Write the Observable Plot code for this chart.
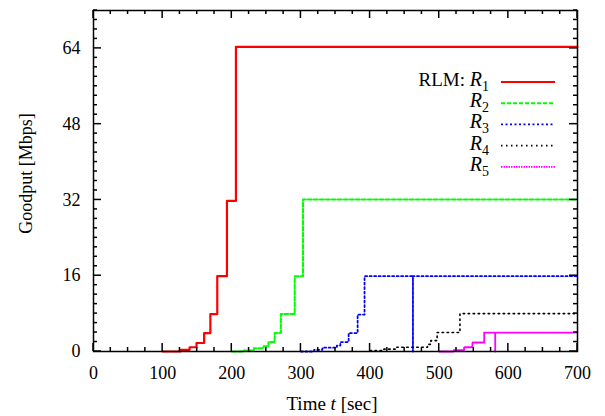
<!DOCTYPE html>
<html><head><meta charset="utf-8">
<script src="https://cdn.jsdelivr.net/npm/d3@7"></script>
<script src="https://cdn.jsdelivr.net/npm/@observablehq/plot@0.6"></script>
<style>body{margin:0;background:#fff} svg text{font-family:"Liberation Serif","Times New Roman",serif !important}</style>
</head><body><div id="chart"></div>
<script>
// Step series: time [sec] where rate changes, goodput [Mbps]
const r1Time = [100, 126, 139, 149, 160, 169, 179, 193, 206, 700];
const r1Rate = [0, 0.35, 0.9, 1.8, 3.9, 7.9, 15.9, 31.8, 64.3, 64.3];
const r2Time = [200, 217, 232, 246, 253, 262, 271, 291, 303, 700];
const r2Rate = [0, 0.2, 0.7, 1.1, 2, 3.9, 7.9, 15.9, 32.1, 32.1];
const r3Time = [300, 319, 331, 352, 357, 369, 382, 392, 462, 462, 700];
const r3Rate = [0, 0.35, 0.8, 1.26, 2, 3.9, 7.8, 15.9, 0, 15.9, 15.9];
const r4Time = [400, 420, 437, 483, 488, 497, 530, 700];
const r4Rate = [0.2, 0.5, 0.9, 1.5, 2.3, 4, 8, 8];
const r5Time = [500, 521, 536, 548, 565, 581, 581, 700];
const r5Rate = [0, 0.3, 0.9, 1.9, 4, 0, 4, 4];

const seriesNames = ["R1", "R2", "R3", "R4", "R5"];
const seriesColors = ["#ff0000", "#00ff00", "#0000ff", "#000000", "#ff00ff"];
const seriesDash = [null, "4,2", "2,2.5", "1.5,3.5", "1.5,1"];
const seriesWidth = [2.2, 2, 1.8, 1.6, 1.8];

const xTickLabels = [0, 100, 200, 300, 400, 500, 600, 700];
const yTickLabels = [0, 16, 32, 48, 64];

const times = [r1Time, r2Time, r3Time, r4Time, r5Time];
const rates = [r1Rate, r2Rate, r3Rate, r4Rate, r5Rate];
const rows = seriesNames.flatMap((s, i) => times[i].map((t, j) => ({series: s, t, v: rates[i][j]})));

const X0 = 0, X1 = 700, Y0 = 0, Y1 = 72;
const xMajor = d3.range(X0, X1 + 1, 100);
const xMinor = d3.range(X0, X1 + 1, 25).filter(d => d % 100 !== 0);
const yMajor = d3.range(Y0, Y1 + 1, 16);
const yMinor = d3.range(Y0, Y1 + 1, 2).filter(d => d % 16 !== 0);

const W = 605, H = 416, ML = 93, MR = 28, MT = 10, MB = 65;
const PW = W - ML - MR, PH = H - MT - MB;
const FONT = "'Liberation Serif', 'Times New Roman', serif";

const chart = Plot.plot({
  width: W, height: H,
  marginLeft: ML, marginRight: MR, marginTop: MT, marginBottom: MB,
  style: {fontFamily: FONT, fontSize: "18px", background: "#fff", color: "#000"},
  x: {domain: [X0, X1]},
  y: {domain: [Y0, Y1]},
  marks: [
    ...seriesNames.map((s, i) => Plot.line(rows.filter(d => d.series === s), {
      x: "t", y: "v", curve: "step-after", stroke: seriesColors[i],
      strokeWidth: seriesWidth[i], strokeDasharray: seriesDash[i]
    })),
    Plot.axisX(xTickLabels, {anchor: "bottom", tickSize: 0, tickPadding: 15, label: null, fontSize: 18}),
    Plot.axisY(yTickLabels, {anchor: "left", tickSize: 0, tickPadding: 13, label: null, fontSize: 18}),
    Plot.frame({stroke: "#000", strokeWidth: 1.5})
  ]
});

const svg = d3.select(chart);
const pLeft = ML, pRight = W - MR, pTop = MT, pBottom = H - MB;
let sx = v => pLeft + (v - X0) / (X1 - X0) * PW;
let sy = v => pBottom - (v - Y0) / (Y1 - Y0) * PH;
try {
  const ex = chart.scale("x"), ey = chart.scale("y");
  if (ex && typeof ex.apply === "function" && isFinite(ex.apply(100))) sx = v => ex.apply(v);
  if (ey && typeof ey.apply === "function" && isFinite(ey.apply(16))) sy = v => ey.apply(v);
} catch (e) {}

// inward ticks on all four sides
const tg = svg.append("g");
const seg = (x1, y1, x2, y2) => tg.append("line")
  .attr("x1", x1).attr("y1", y1).attr("x2", x2).attr("y2", y2)
  .attr("stroke", "#000").attr("stroke-width", 1.5);
xMajor.forEach(v => { const x = sx(v); seg(x, pBottom, x, pBottom - 8); seg(x, pTop, x, pTop + 8); });
xMinor.forEach(v => { const x = sx(v); seg(x, pBottom, x, pBottom - 4); seg(x, pTop, x, pTop + 4); });
yMajor.forEach(v => { const y = sy(v); seg(pLeft, y, pLeft + 8, y); seg(pRight, y, pRight - 8, y); });
yMinor.forEach(v => { const y = sy(v); seg(pLeft, y, pLeft + 4, y); seg(pRight, y, pRight - 4, y); });

// axis titles
svg.append("text")
  .attr("transform", `translate(32,${(pTop + pBottom) / 2 - 7}) rotate(-90)`)
  .attr("text-anchor", "middle").attr("font-size", 18).attr("font-family", FONT).attr("fill", "#000")
  .text("Goodput [Mbps]");
const xt = svg.append("text")
  .attr("x", ML + PW / 2 - 3).attr("y", 410)
  .attr("text-anchor", "middle").attr("font-size", 19).attr("font-family", FONT).attr("fill", "#000");
xt.append("tspan").text("Time ");
xt.append("tspan").attr("font-style", "italic").text("t");
xt.append("tspan").text(" [sec]");

// legend
const lg = svg.append("g");
seriesNames.forEach((s, i) => {
  const yl = 82 + i * 21.2;
  const t = lg.append("text").attr("x", 489).attr("y", yl + 4)
    .attr("text-anchor", "end").attr("font-size", 19).attr("font-family", FONT).attr("fill", "#000");
  if (i === 0) t.append("tspan").text("RLM: ");
  t.append("tspan").attr("font-style", "italic").attr("font-size", 20).text(s[0]);
  t.append("tspan").attr("dy", 5).attr("font-size", 14).text(s.slice(1));
  lg.append("line").attr("x1", 501).attr("x2", 555).attr("y1", yl).attr("y2", yl)
    .attr("stroke", seriesColors[i]).attr("stroke-width", seriesWidth[i])
    .attr("stroke-dasharray", seriesDash[i]);
});

document.getElementById("chart").appendChild(chart);
</script>
</body></html>
